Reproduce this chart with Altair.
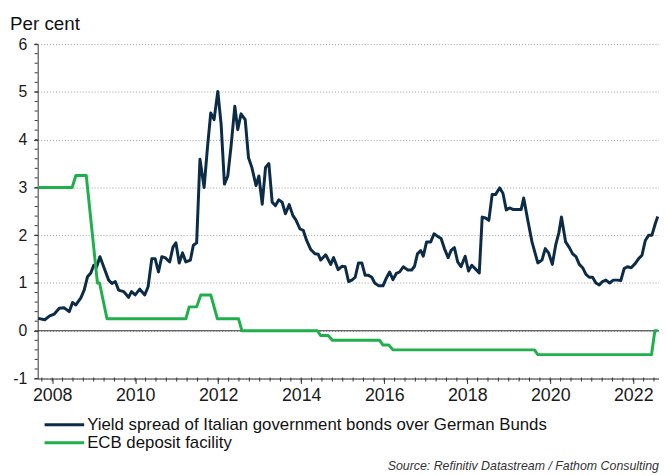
import altair as alt
import pandas as pd

FONT = "Liberation Sans"

# Yield spread of Italian government bonds over German Bunds (per cent)
SPREAD_X = [2007.66, 2007.82, 2007.94, 2008.05, 2008.17, 2008.29, 2008.41, 2008.49, 2008.57, 2008.69,
            2008.77, 2008.85, 2008.93, 2009.00, 2009.07, 2009.15, 2009.24, 2009.36, 2009.44, 2009.52,
            2009.60, 2009.72, 2009.84, 2009.91, 2010.00, 2010.11, 2010.23, 2010.31, 2010.40, 2010.48,
            2010.56, 2010.64, 2010.72, 2010.83, 2010.91, 2010.98, 2011.06, 2011.14, 2011.22, 2011.33,
            2011.40, 2011.48, 2011.56, 2011.66, 2011.74, 2011.82, 2011.90, 2011.99, 2012.07, 2012.15,
            2012.23, 2012.31, 2012.40, 2012.47, 2012.55, 2012.65, 2012.73, 2012.81, 2012.91, 2012.98,
            2013.06, 2013.14, 2013.22, 2013.30, 2013.38, 2013.46, 2013.54, 2013.62, 2013.71, 2013.80,
            2013.87, 2013.97, 2014.05, 2014.13, 2014.23, 2014.33, 2014.41, 2014.47, 2014.59, 2014.71,
            2014.78, 2014.89, 2014.98, 2015.06, 2015.14, 2015.22, 2015.30, 2015.38, 2015.46, 2015.54,
            2015.62, 2015.70, 2015.77, 2015.87, 2015.97, 2016.05, 2016.13, 2016.21, 2016.29, 2016.37,
            2016.46, 2016.57, 2016.66, 2016.73, 2016.80, 2016.88, 2016.94, 2017.02, 2017.12, 2017.20,
            2017.28, 2017.37, 2017.45, 2017.54, 2017.61, 2017.69, 2017.77, 2017.85, 2017.95, 2018.03,
            2018.11, 2018.19, 2018.29, 2018.36, 2018.44, 2018.52, 2018.60, 2018.68, 2018.78, 2018.86,
            2018.94, 2019.02, 2019.10, 2019.22, 2019.30, 2019.36, 2019.46, 2019.56, 2019.70, 2019.80,
            2019.88, 2019.96, 2020.05, 2020.13, 2020.21, 2020.27, 2020.37, 2020.46, 2020.54, 2020.62,
            2020.70, 2020.78, 2020.86, 2020.94, 2021.02, 2021.10, 2021.18, 2021.26, 2021.34, 2021.43,
            2021.52, 2021.62, 2021.70, 2021.78, 2021.86, 2021.95, 2022.05, 2022.13, 2022.21, 2022.29,
            2022.37, 2022.45, 2022.53, 2022.59]
SPREAD_Y = [0.26, 0.23, 0.31, 0.35, 0.47, 0.48, 0.40, 0.59, 0.54, 0.69,
            0.85, 1.13, 1.21, 1.37, 1.34, 1.55, 1.34, 1.06, 0.99, 1.03,
            0.85, 0.82, 0.70, 0.82, 0.75, 0.87, 0.75, 0.92, 1.51, 1.51,
            1.23, 1.55, 1.53, 1.44, 1.75, 1.84, 1.42, 1.63, 1.44, 1.48,
            1.79, 1.84, 3.59, 3.00, 3.83, 4.56, 4.42, 5.01, 4.32, 3.07,
            3.24, 3.87, 4.70, 4.21, 4.54, 4.42, 3.62, 3.42, 3.04, 3.24,
            2.65, 3.42, 3.50, 2.69, 2.62, 2.74, 2.69, 2.45, 2.64, 2.41,
            2.32, 2.13, 2.10, 1.89, 1.70, 1.61, 1.60, 1.48, 1.59, 1.39,
            1.53, 1.28, 1.35, 1.34, 1.03, 1.06, 1.12, 1.42, 1.42, 1.16,
            1.16, 1.12, 1.00, 0.94, 0.94, 1.10, 1.23, 1.07, 1.20, 1.23,
            1.34, 1.27, 1.27, 1.35, 1.61, 1.68, 1.56, 1.86, 1.86, 2.03,
            1.98, 1.93, 1.72, 1.53, 1.68, 1.74, 1.44, 1.34, 1.56, 1.25,
            1.37, 1.30, 1.21, 2.38, 2.36, 2.31, 2.85, 2.85, 2.99, 2.88,
            2.53, 2.57, 2.54, 2.54, 2.54, 2.78, 2.31, 1.86, 1.42, 1.48,
            1.72, 1.63, 1.39, 1.79, 2.06, 2.38, 1.86, 1.74, 1.61, 1.55,
            1.39, 1.32, 1.18, 1.12, 1.12, 1.00, 0.96, 1.03, 1.06, 1.00,
            1.06, 1.06, 1.05, 1.30, 1.34, 1.32, 1.41, 1.51, 1.58, 1.89,
            2.00, 2.00, 2.24, 2.39]

# ECB deposit facility rate (per cent)
ECB_X = [2007.66, 2008.48, 2008.57, 2008.82, 2009.09, 2009.14, 2009.32, 2011.22, 2011.30, 2011.48,
         2011.58, 2011.82, 2011.98, 2012.49, 2012.57, 2014.39, 2014.47, 2014.65, 2014.75, 2015.89,
         2015.97, 2016.11, 2016.21, 2019.62, 2019.70, 2022.44, 2022.52, 2022.59]
ECB_Y = [3.00, 3.00, 3.25, 3.25, 1.00, 1.00, 0.25, 0.25, 0.50, 0.50,
         0.75, 0.75, 0.25, 0.25, 0.00, 0.00, -0.10, -0.10, -0.20, -0.20,
         -0.30, -0.30, -0.40, -0.40, -0.50, -0.50, 0.00, 0.00]

SERIES = ["Yield spread of Italian government bonds over German Bunds", "ECB deposit facility"]
COLORS = ["#0b2b47", "#20b04b"]

X_DOMAIN = [2007.65, 2022.62]
Y_DOMAIN = [-1, 6]
X_MAJOR = [2008, 2010, 2012, 2014, 2016, 2018, 2020, 2022]
X_MINOR = [2007.75 + 0.25 * k for k in range(60)]
Y_MAJOR = [-1, 0, 1, 2, 3, 4, 5, 6]
Y_MINOR = [round(-1 + 0.2 * k, 1) for k in range(36)]
ZERO = [0]
Y_UNIT = "Per cent"
SOURCE = "Source: Refinitiv Datastream / Fathom Consulting"

W, H = 628, 338
AX = "#333333"

df = pd.concat([
    pd.DataFrame({"year": SPREAD_X, "value": SPREAD_Y, "series": SERIES[0]}),
    pd.DataFrame({"year": ECB_X, "value": ECB_Y, "series": SERIES[1]}),
], ignore_index=True)

x_scale = alt.Scale(domain=X_DOMAIN, nice=False, zero=False)
y_scale = alt.Scale(domain=Y_DOMAIN, nice=False, zero=False)

x_axis = alt.Axis(
    values=X_MAJOR, format="d", tickSize=5,
    tickColor=AX, tickWidth=1, domainColor=AX, domainWidth=1,
    labelFont=FONT, labelFontSize=18, labelColor="#1a1a1a", labelPadding=3,
    labelOverlap=False, labelFlush=False, labelBound=False, grid=False, title=None,
)
y_axis = alt.Axis(
    values=Y_MAJOR, labelExpr="'' + datum.value", tickSize=4,
    tickColor=AX, tickWidth=1, domainColor=AX, domainWidth=1,
    labelFont=FONT, labelFontSize=16, labelColor="#1a1a1a", labelPadding=7,
    labelOverlap=False, labelFlush=False, labelBound=False,
    grid=True, gridColor="#9a9a9a", gridDash=[1, 2], gridWidth=1,
    title=None,
)

lines = alt.Chart(df).mark_line(strokeWidth=3, strokeJoin="round").encode(
    x=alt.X("year:Q", scale=x_scale, axis=x_axis),
    y=alt.Y("value:Q", scale=y_scale, axis=y_axis),
    color=alt.Color("series:N", scale=alt.Scale(domain=SERIES, range=COLORS), legend=None),
    order=alt.Order("year:Q"),
)

zero = alt.Chart(pd.DataFrame({"value": ZERO})).mark_rule(color=AX, strokeWidth=1).encode(
    y=alt.Y("value:Q", scale=y_scale, axis=y_axis))

x_minor = alt.Chart(pd.DataFrame({"year": X_MINOR})).mark_rule(color=AX, strokeWidth=1).encode(
    x=alt.X("year:Q", scale=x_scale, axis=x_axis), y=alt.value(H - 1), y2=alt.value(H + 3))

y_minor = alt.Chart(pd.DataFrame({"value": Y_MINOR})).mark_rule(color=AX, strokeWidth=1).encode(
    y=alt.Y("value:Q", scale=y_scale, axis=y_axis), x=alt.value(-3), x2=alt.value(0))

unit = alt.Chart(pd.DataFrame({"t": [Y_UNIT]})).mark_text(
    align="left", baseline="alphabetic", font=FONT, fontSize=19, color="#111"
).encode(x=alt.value(-28), y=alt.value(-14), text="t:N")

source = alt.Chart(pd.DataFrame({"t": [SOURCE]})).mark_text(
    align="right", baseline="alphabetic", font=FONT, fontSize=12.5, fontStyle="italic", color="#333"
).encode(x=alt.value(W), y=alt.value(430), text="t:N")

legend_layers = []
for i, (name, col) in enumerate(zip(SERIES, COLORS)):
    ly = 384.7 + i * 18.3
    ldf = pd.DataFrame({"t": [name]})
    legend_layers.append(
        alt.Chart(ldf).mark_rule(color=col, strokeWidth=3).encode(
            x=alt.value(7), x2=alt.value(47), y=alt.value(ly))
    )
    legend_layers.append(
        alt.Chart(ldf).mark_text(align="left", baseline="middle", font=FONT, fontSize=17, color="#111").encode(
            x=alt.value(50), y=alt.value(ly), text="t:N")
    )

chart = alt.layer(zero, x_minor, y_minor, lines, unit, source, *legend_layers).properties(
    width=W, height=H,
    autosize=alt.AutoSizeParams(type="none"),
    padding={"left": 30, "top": 34, "right": 0, "bottom": 95},
    background="white",
).configure_view(stroke=None)

chart.save("out.html", embed_options={"renderer": "svg", "actions": False})
